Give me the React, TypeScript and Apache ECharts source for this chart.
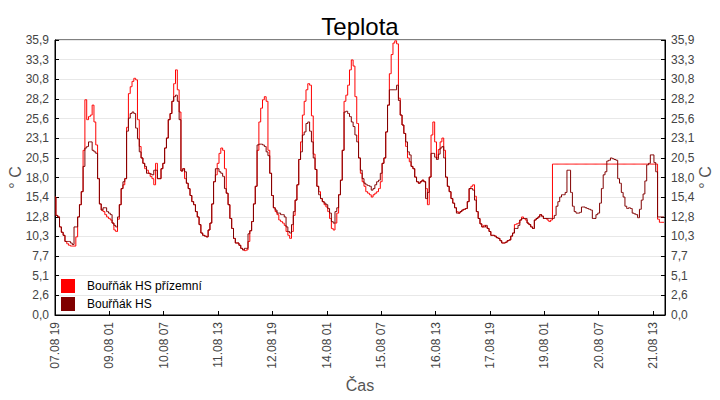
import React, { useEffect, useRef } from "react";
import * as echarts from "echarts";

// Hourly readings starting 07.08 19:00
const prizemni = [
  15.4,13.0,12.8,11.5,10.8,10.4,9.6,9.3,9.1,9.0,
  9.0,9.0,10.2,12.8,14.4,16.1,21.5,28.1,25.5,25.9,
  26.1,27.4,25.2,22.2,17.8,14.5,13.7,13.5,13.1,12.8,
  12.6,12.4,12.0,11.1,10.9,12.5,14.4,16.5,17.0,17.8,
  24.5,28.9,29.8,30.5,30.9,30.7,25.5,22.0,20.5,19.8,
  19.1,18.9,18.5,18.1,17.8,17.0,19.8,17.8,17.8,19.1,
  19.8,21.8,23.1,25.5,26.3,27.9,30.2,32.0,29.4,26.5,
  18.8,19.1,17.8,17.2,16.5,15.6,14.8,14.4,13.5,12.8,
  11.8,10.7,10.4,10.3,10.2,11.1,12.0,14.5,17.4,18.3,
  19.8,21.1,21.8,21.5,19.1,15.9,14.4,12.6,11.3,10.0,
  9.4,9.4,9.1,8.7,8.5,8.4,8.5,9.6,11.0,12.2,
  14.5,16.8,21.5,25.2,27.0,28.1,28.5,27.9,21.5,18.5,
  15.6,14.0,13.5,13.1,12.4,12.2,12.0,11.7,10.9,10.4,
  10.0,10.9,13.0,15.0,17.0,20.3,22.6,26.1,27.9,29.4,
  30.2,30.0,26.0,21.0,19.0,16.8,16.1,15.2,14.8,14.4,
  14.1,13.5,12.6,11.3,11.1,12.0,13.3,15.7,17.6,21.5,
  27.9,28.7,30.0,32.0,33.3,32.5,28.5,25.0,20.5,18.5,
  17.4,16.8,16.1,15.9,15.7,15.4,15.7,15.9,16.1,16.5,
  17.4,19.8,20.5,23.9,27.4,31.5,34.0,35.5,35.8,35.4,
  28.3,26.1,24.8,23.7,22.0,20.5,20.0,19.4,19.1,18.0,
  17.4,17.2,17.4,17.6,17.4,16.5,14.4,18.0,23.5,25.2,
  22.6,20.5,21.6,22.6,23.1,21.5,18.0,16.8,16.1,15.2,
  14.6,14.0,13.5,13.3,13.5,13.7,13.8,13.9,14.8,16.5,
  16.8,17.0,15.5,13.5,12.6,11.9,11.5,11.7,11.5,11.3,
  10.9,10.4,10.4,10.3,10.1,10.0,9.7,9.4,9.4,9.5,
  9.7,9.8,10.3,10.7,11.8,11.9,12.0,12.4,12.8,12.6,
  12.4,12.0,11.8,11.5,11.3,12.4,12.6,12.8,13.1,12.9,
  12.6,12.6,12.4,12.2,12.4,19.7,19.7,19.7,19.7,19.7,
  19.7,19.7,19.7,19.7,19.7,19.7,19.7,19.7,19.7,19.7,
  19.7,19.7,19.7,19.7,19.7,19.7,19.7,19.7,19.7,19.7,
  19.7,19.7,19.7,19.7,19.7,19.7,19.7,19.7,19.7,19.7,
  19.7,19.7,19.7,19.7,19.7,19.7,19.7,19.7,19.7,19.7,
  19.7,19.7,19.7,19.7,19.7,19.7,19.7,19.7,19.7,19.7,
  19.7,19.7,19.7,12.5,12.1,12.1,12.1,
];

const hs = [
  15.4,13.0,12.8,11.5,10.8,10.4,9.6,9.6,9.6,9.4,
  9.2,11.5,11.5,12.8,14.4,16.1,19.4,21.8,22.0,22.6,
  22.6,21.5,21.3,21.1,17.8,14.5,13.7,14.0,14.0,13.5,
  13.3,13.1,12.0,11.7,11.5,12.8,14.4,16.5,17.4,17.8,
  24.0,25.7,26.3,26.5,26.3,24.4,23.0,21.3,20.5,19.8,
  19.4,18.5,18.5,18.4,18.3,18.9,18.9,17.8,17.8,19.1,
  19.8,21.8,23.1,25.5,26.3,27.9,28.5,28.7,27.9,25.5,
  18.8,19.1,18.7,17.2,16.5,15.6,14.8,14.4,13.5,12.8,
  11.8,10.7,10.4,10.3,10.2,11.1,12.0,14.5,17.4,19.1,
  19.1,18.7,18.5,18.1,16.5,15.9,14.4,12.6,11.3,10.0,
  9.4,9.4,9.1,8.7,8.5,8.7,8.7,10.6,11.0,12.2,
  14.5,16.8,22.2,22.3,22.3,22.2,22.0,21.3,20.8,18.5,
  15.6,14.0,13.7,13.3,13.3,13.1,13.1,12.8,11.5,10.9,
  10.7,11.8,13.5,15.0,17.0,20.3,21.3,23.5,23.9,25.0,
  25.2,24.0,22.6,20.5,19.0,16.8,15.7,15.2,14.8,14.6,
  14.4,13.9,13.3,12.2,12.0,13.5,14.0,15.7,17.6,21.5,
  26.5,26.6,26.3,25.9,25.2,24.6,23.5,22.6,20.5,18.9,
  17.8,17.2,17.0,16.9,16.8,16.3,16.5,17.0,17.4,17.6,
  18.5,19.8,20.5,23.9,27.4,29.4,29.4,29.4,29.4,30.0,
  28.0,26.1,24.8,23.7,22.6,21.3,20.9,19.4,19.1,18.0,
  17.4,17.2,17.4,17.6,17.4,15.2,16.0,18.0,21.1,21.1,
  20.6,20.3,21.0,21.8,22.0,20.5,18.0,16.8,16.1,15.2,
  14.6,14.0,13.3,13.3,13.5,13.7,13.8,13.9,14.8,16.5,
  16.5,16.3,15.0,13.5,12.6,11.9,11.5,11.5,11.7,11.3,
  10.9,10.4,10.4,10.3,10.1,10.0,9.7,9.4,9.4,9.5,
  9.7,9.8,10.3,10.7,11.3,11.3,11.7,12.4,12.6,12.6,
  12.6,12.0,11.8,11.5,11.3,12.4,12.6,12.8,13.1,12.9,
  12.6,12.6,12.6,12.6,12.6,12.6,13.0,14.2,14.8,15.4,
  15.7,15.7,16.0,18.9,18.9,16.0,14.2,13.5,13.3,13.3,
  13.4,14.1,14.1,14.0,13.9,13.8,13.7,12.6,12.6,13.1,
  13.3,14.6,16.5,18.3,18.7,20.1,20.2,20.5,20.4,20.3,
  20.2,17.8,17.2,16.0,15.4,14.2,13.9,14.0,13.9,13.3,
  13.2,13.1,12.7,13.8,15.0,15.8,17.5,19.6,19.8,20.9,
  20.9,19.9,18.7,12.8,12.8,12.8,12.8,
];

const xTickLabels = [
  "07.08 19", "09.08 01", "10.08 07", "11.08 13", "12.08 19", "14.08 01",
  "15.08 07", "16.08 13", "17.08 19", "19.08 01", "20.08 07", "21.08 13",
];
const xTickStepHours = 30;

const yTickLabels = [
  "0,0", "2,6", "5,1", "7,7", "10,3", "12,8", "15,4", "18,0",
  "20,5", "23,1", "25,6", "28,2", "30,8", "33,3", "35,9",
];
const yMax = 35.9;

const seriesNames = ["Bouřňák HS přízemní", "Bouřňák HS"];
const seriesColors = ["#ff0000", "#800000"];

const FONT = "'Liberation Sans', Arial, sans-serif";

export default function App() {
  const ref = useRef<HTMLDivElement>(null);
  useEffect(() => {
    if (!ref.current) return;
    const chart = echarts.init(ref.current, null, { renderer: "svg" });
    const yStep = yMax / (yTickLabels.length - 1);
    const yFmt = (v: number) => {
      const i = Math.round(v / yStep);
      return Math.abs(v - i * yStep) < 1e-6 ? yTickLabels[i] ?? "" : "";
    };
    const yAxisBase = (pos: "left" | "right") => ({
      type: "value",
      position: pos,
      min: 0,
      max: yMax,
      interval: yStep,
      name: "° C",
      nameLocation: "middle",
      nameRotate: 90,
      nameGap: 32,
      nameMoveOverlap: false,
      nameTextStyle: { fontSize: 16, color: "#555", fontFamily: FONT },
      axisLine: { show: true, lineStyle: { color: "#000", width: 1 } },
      axisTick: { show: true, inside: true, length: 4, lineStyle: { color: "#000" } },
      axisLabel: {
        fontSize: 12,
        color: "#444",
        fontFamily: FONT,
        margin: 6,
        formatter: yFmt,
      },
      splitLine: {
        show: pos === "left",
        lineStyle: { color: "#e8e8e8", width: 1 },
      },
    });
    const maxH = prizemni.length - 1 + 0.6;
    chart.setOption({
      animation: false,
      backgroundColor: "#fff",
      title: {
        text: "Teplota",
        left: "center",
        top: 9,
        textStyle: { fontSize: 24, fontWeight: "normal", color: "#000", fontFamily: FONT },
      },
      legend: {
        orient: "vertical",
        left: 61,
        top: 279,
        padding: 0,
        itemWidth: 14,
        itemHeight: 14,
        itemGap: 4,
        icon: "rect",
        data: seriesNames,
        textStyle: { fontSize: 12, color: "#000", fontFamily: FONT, padding: [0, 0, 0, 7] },
      },
      grid: {
        left: 55,
        right: 55,
        top: 40,
        bottom: 85,
        show: true,
        borderColor: "#000",
        borderWidth: 1,
        containLabel: false,
        outerBoundsMode: "none",
      },
      xAxis: {
        type: "value",
        min: 0,
        max: maxH,
        interval: xTickStepHours,
        name: "Čas",
        nameLocation: "middle",
        nameGap: 62,
        nameMoveOverlap: false,
        nameTextStyle: { fontSize: 16, color: "#555", fontFamily: FONT },
        axisLine: { show: true, lineStyle: { color: "#000", width: 1 } },
        axisTick: { show: true, inside: true, length: 4, lineStyle: { color: "#000" } },
        axisLabel: {
          rotate: 90,
          fontSize: 12,
          color: "#444",
          fontFamily: FONT,
          margin: 7,
          showMaxLabel: false,
          formatter: (v: number) => {
            const i = Math.round(v / xTickStepHours);
            return Math.abs(v - i * xTickStepHours) < 1e-6 ? xTickLabels[i] ?? "" : "";
          },
        },
        splitLine: { show: false },
      },
      yAxis: [yAxisBase("left"), yAxisBase("right")],
      series: [prizemni, hs].map((vals, k) => ({
        name: seriesNames[k],
        type: "line",
        yAxisIndex: 0,
        step: "middle",
        showSymbol: false,
        symbol: "none",
        color: seriesColors[k],
        lineStyle: { width: 1, color: seriesColors[k] },
        data: vals.map((v, i) => [i, v]),
      })),
    });
    return () => chart.dispose();
  }, []);
  return (
    <div
      ref={ref}
      style={{ position: "absolute", left: 0, top: 0, width: 720, height: 400 }}
    />
  );
}
